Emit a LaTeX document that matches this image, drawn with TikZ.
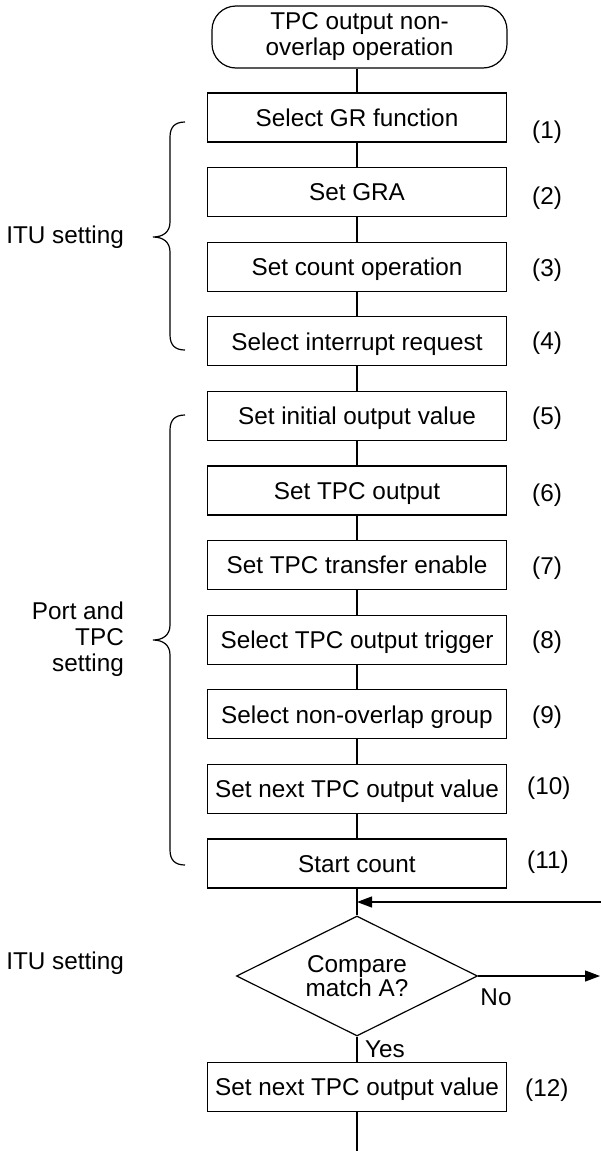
\documentclass[tikz,border=0pt]{standalone}
\usepackage{fontspec}
\setmainfont{Liberation Sans}
\usetikzlibrary{arrows.meta,shapes.geometric}
\begin{document}
\begin{tikzpicture}[x=1pt,y=-1pt,
  every node/.style={font=\fontsize{24.3}{26}\selectfont},
  stepbox/.style={draw, line width=1.2pt, minimum width=299pt, minimum height=49pt, inner sep=0pt, text height=17.4pt, text depth=0pt},
  numlabel/.style={anchor=west, inner sep=0pt, text height=17.7pt, text depth=5.1pt},
  sidelabel/.style={anchor=east, inner sep=0pt, align=right},
  conn/.style={line width=1.2pt},
  arr/.style={line width=1.2pt, -{Triangle[length=15pt,width=11pt]}},
  bracepath/.style={line width=1.2pt},
]
\useasboundingbox (0,0) rectangle (601,1151);

% terminal
\node[draw, line width=1.2pt, rounded corners=24pt, minimum width=295pt, minimum height=62pt, inner sep=0pt, align=center] (start) at (359.5,37) {TPC output non-\\overlap operation};

% process boxes
\node[stepbox] (b1) at (357,117.5) {Select GR function};
\node[stepbox] (b2) at (357,192.1) {Set GRA};
\node[stepbox] (b3) at (357,266.7) {Set count operation};
\node[stepbox] (b4) at (357,341.3) {Select interrupt request};
\node[stepbox] (b5) at (357,415.9) {Set initial output value};
\node[stepbox] (b6) at (357,490.5) {Set TPC output};
\node[stepbox] (b7) at (357,565.1) {Set TPC transfer enable};
\node[stepbox] (b8) at (357,639.7) {Select TPC output trigger};
\node[stepbox] (b9) at (357,714.3) {Select non-overlap group};
\node[stepbox] (b10) at (357,788.9) {Set next TPC output value};
\node[stepbox] (b11) at (357,863.5) {Start count};
\node[draw, diamond, aspect=2, line width=1.2pt, minimum width=241pt, minimum height=120pt, inner sep=0pt, align=center, font=\fontsize{24.3}{24}\selectfont] (dec) at (357,976) {Compare\\match A?};
\node[stepbox] (b12) at (357,1087) {Set next TPC output value};

% step numbers
\node[numlabel] (n1) at (532,132) {(1)};
\node[numlabel] (n2) at (532,198) {(2)};
\node[numlabel] (n3) at (532,270) {(3)};
\node[numlabel] (n4) at (532,343) {(4)};
\node[numlabel] (n5) at (532,418) {(5)};
\node[numlabel] (n6) at (532,495) {(6)};
\node[numlabel] (n7) at (532,568) {(7)};
\node[numlabel] (n8) at (532,642) {(8)};
\node[numlabel] (n9) at (532,717) {(9)};
\node[numlabel] (n10) at (527,788) {(10)};
\node[numlabel] (n11) at (527,862) {(11)};
\node[numlabel] (n12) at (525,1090) {(12)};

% side labels
\node[sidelabel] (itu1) at (124,237) {ITU setting};
\node[sidelabel] (port) at (124,639) {Port and\\TPC\\setting};
\node[sidelabel] (itu2) at (124,963) {ITU setting};

% braces
\draw[bracepath] (185,122) .. controls (175,122) and (170,127) .. (170,137) -- (170,222)
  .. controls (170,232) and (163,237) .. (153,237)
  .. controls (163,237) and (170,242) .. (170,252) -- (170,335)
  .. controls (170,345) and (175,350) .. (185,350);
\draw[bracepath] (185,415) .. controls (175,415) and (170,420) .. (170,430) -- (170,625)
  .. controls (170,635) and (163,640) .. (153,640)
  .. controls (163,640) and (170,645) .. (170,655) -- (170,850)
  .. controls (170,860) and (175,865) .. (185,865);

% connectors
\draw[conn] (start.south -| b1.north) -- (b1.north);
\foreach \i [evaluate=\i as \j using int(\i+1)] in {1,...,10} {
  \draw[conn] (b\i.south) -- (b\j.north);
}
\draw[conn] (b11.south) -- (dec.north);
\coordinate (join) at (357,902);
\coordinate (inR) at (602,902);
\draw[arr] (inR) -- (join);
\coordinate (outR) at (600,976);
\draw[arr] (dec.east) -- (outR);
\draw[conn] (dec.south) -- (b12.north);
\coordinate (bot) at (357,1152);
\draw[conn] (b12.south) -- (bot);

% branch labels
\node (no) at (496,997) {No};
\node (yes) at (385,1049) {Yes};
\end{tikzpicture}
\end{document}
